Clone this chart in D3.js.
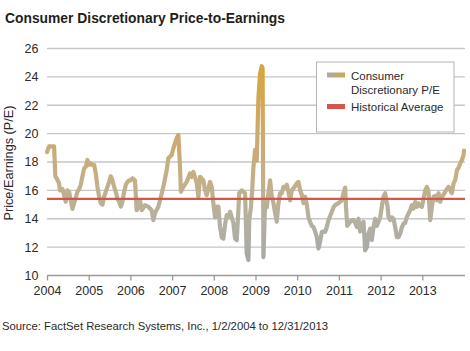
<!DOCTYPE html>
<html>
<head>
<meta charset="utf-8">
<script src="https://cdn.jsdelivr.net/npm/d3@7"></script>
<style>
  html, body { margin: 0; padding: 0; background: #fff; }
  svg { display: block; font-family: "Liberation Sans", Arial, sans-serif; }
</style>
</head>
<body>
<div id="chart"></div>
<script>
// Consumer Discretionary P/E, 2004–2013
const years = [
  2004.00, 2004.05, 2004.17, 2004.20, 2004.23, 2004.29, 2004.31, 2004.37, 2004.41, 2004.45,
  2004.49, 2004.53, 2004.57, 2004.61, 2004.65, 2004.69, 2004.73, 2004.77, 2004.81, 2004.85,
  2004.89, 2004.93, 2004.97, 2005.01, 2005.05, 2005.09, 2005.13, 2005.17, 2005.21, 2005.25,
  2005.29, 2005.33, 2005.37, 2005.41, 2005.45, 2005.49, 2005.53, 2005.57, 2005.61, 2005.65,
  2005.69, 2005.73, 2005.77, 2005.81, 2005.85, 2005.89, 2005.93, 2005.97, 2006.01, 2006.05,
  2006.11, 2006.15, 2006.23, 2006.27, 2006.35, 2006.43, 2006.51, 2006.55, 2006.59, 2006.67,
  2006.71, 2006.79, 2006.87, 2006.91, 2006.99, 2007.03, 2007.11, 2007.15, 2007.19, 2007.21,
  2007.27, 2007.35, 2007.43, 2007.47, 2007.51, 2007.59, 2007.63, 2007.67, 2007.75, 2007.79,
  2007.83, 2007.91, 2007.95, 2007.99, 2008.03, 2008.07, 2008.11, 2008.15, 2008.19, 2008.23,
  2008.27, 2008.31, 2008.35, 2008.39, 2008.43, 2008.47, 2008.51, 2008.55, 2008.59, 2008.61,
  2008.67, 2008.71, 2008.75, 2008.79, 2008.83, 2008.85, 2008.89, 2008.92, 2008.95, 2008.99,
  2009.03, 2009.07, 2009.11, 2009.15, 2009.17, 2009.19, 2009.23, 2009.27, 2009.31, 2009.35,
  2009.39, 2009.43, 2009.47, 2009.51, 2009.55, 2009.59, 2009.63, 2009.67, 2009.71, 2009.75,
  2009.79, 2009.83, 2009.87, 2009.95, 2009.99, 2010.03, 2010.07, 2010.11, 2010.15, 2010.19,
  2010.23, 2010.27, 2010.31, 2010.35, 2010.39, 2010.43, 2010.47, 2010.51, 2010.55, 2010.59,
  2010.63, 2010.67, 2010.71, 2010.75, 2010.79, 2010.83, 2010.87, 2010.91, 2010.99, 2011.07,
  2011.11, 2011.15, 2011.17, 2011.20, 2011.27, 2011.31, 2011.35, 2011.39, 2011.43, 2011.47,
  2011.51, 2011.55, 2011.59, 2011.63, 2011.67, 2011.71, 2011.75, 2011.79, 2011.83, 2011.87,
  2011.91, 2011.95, 2011.99, 2012.03, 2012.07, 2012.11, 2012.13, 2012.17, 2012.19, 2012.23,
  2012.27, 2012.31, 2012.35, 2012.39, 2012.43, 2012.47, 2012.51, 2012.55, 2012.59, 2012.63,
  2012.67, 2012.71, 2012.75, 2012.79, 2012.83, 2012.87, 2012.91, 2012.95, 2012.99, 2013.03,
  2013.07, 2013.11, 2013.15, 2013.19, 2013.23, 2013.27, 2013.31, 2013.35, 2013.39, 2013.43,
  2013.47, 2013.51, 2013.55, 2013.59, 2013.63, 2013.67, 2013.71, 2013.75, 2013.79, 2013.83,
  2013.87, 2013.91, 2013.95, 2013.99, 2014.00
];
const peValues = [
  18.7, 19.1, 19.1, 17.0, 16.85, 16.5, 16.0, 16.1, 15.66, 15.2,
  16.0, 15.9, 15.3, 14.7, 15.1, 15.5, 15.9, 16.1, 16.4, 17.0,
  17.55, 17.67, 18.14, 17.8, 17.9, 17.8, 17.8, 17.2, 16.25, 15.55,
  15.1, 15.0, 15.55, 15.9, 16.25, 16.6, 17.0, 16.7, 16.25, 15.9,
  15.4, 15.2, 14.85, 15.2, 15.9, 16.4, 16.6, 16.7, 16.7, 16.85,
  16.7, 14.6, 15.3, 14.6, 14.95, 14.85, 14.6, 13.9, 14.4, 14.85,
  15.3, 16.25, 17.4, 18.26, 18.5, 18.97, 19.68, 19.9, 17.67, 15.9,
  16.25, 16.6, 17.2, 16.96, 17.3, 16.5, 15.55, 16.96, 16.7, 16.0,
  15.66, 16.6, 16.25, 15.08, 14.1, 14.85, 14.85, 13.4, 12.7, 12.6,
  13.6, 14.25, 14.1, 14.5, 14.1, 13.7, 12.6, 12.5, 14.6, 15.8,
  16.0, 15.9, 15.8, 11.55, 11.1, 13.9, 14.8, 16.0, 17.6, 18.85,
  18.1, 22.5, 24.2, 24.75, 24.6, 11.3, 15.1, 14.8, 15.8, 16.7,
  15.6, 15.1, 14.4, 13.8, 15.1, 15.8, 15.8, 16.25, 16.2, 16.4,
  15.9, 15.3, 16.0, 16.3, 16.5, 16.6, 16.0, 15.7, 15.1, 15.55,
  15.0, 14.1, 13.77, 13.5, 13.42, 13.1, 12.7, 11.9, 12.4, 13.07,
  13.1, 13.07, 13.42, 13.9, 14.2, 14.5, 14.8, 14.96, 15.1, 15.3,
  15.8, 16.2, 14.85, 13.5, 13.77, 13.9, 13.9, 13.7, 13.42, 14.0,
  13.1, 13.5, 13.8, 11.77, 12.0, 12.95, 13.3, 12.5, 13.42, 14.0,
  13.5, 13.77, 14.1, 14.85, 15.55, 15.8, 15.4, 14.84, 14.1, 13.9,
  14.1, 14.0, 13.42, 12.7, 12.71, 12.95, 13.4, 13.66, 13.7, 14.13,
  14.37, 14.6, 14.96, 14.72, 15.19, 14.84, 15.08, 14.9, 14.84, 15.4,
  16.0, 16.25, 15.9, 13.9, 14.84, 15.55, 15.6, 15.3, 15.8, 15.2,
  15.55, 15.7, 15.9, 16.1, 16.25, 16.0, 15.8, 16.5, 16.73, 17.43,
  17.6, 17.9, 18.14, 18.5, 18.8
];
const historicalAverage = 15.4;
const yTicks = [10, 12, 14, 16, 18, 20, 22, 24, 26];
const xTicks = [2004, 2005, 2006, 2007, 2008, 2009, 2010, 2011, 2012, 2013];
const legendLabels = [["Consumer", "Discretionary P/E"], ["Historical Average"]];

const W = 470, H = 351;
const data = years.map((t, i) => ({ t, v: peValues[i] }));

const svg = d3.select('#chart').append('svg')
  .attr('width', W).attr('height', H);

const x = d3.scaleLinear().domain([2004, 2014]).range([47, 464]);
const y = d3.scaleLinear().domain([10, 26]).range([275.5, 48.5]);

// title
svg.append('text')
  .attr('x', 5).attr('y', 22.5)
  .attr('font-size', 15.5).attr('font-weight', 'bold').attr('fill', '#1e1e1e')
  .attr('textLength', 280).attr('lengthAdjust', 'spacingAndGlyphs')
  .text('Consumer Discretionary Price-to-Earnings');

// gridlines
svg.append('g')
  .selectAll('line')
  .data(yTicks.filter(d => d > 10))
  .join('line')
    .attr('x1', x.range()[0]).attr('x2', x.range()[1] + 1)
    .attr('y1', d => y(d)).attr('y2', d => y(d))
    .attr('stroke', '#c6c6c6').attr('stroke-width', 1.4);

// y tick labels
svg.append('g')
  .selectAll('text')
  .data(yTicks)
  .join('text')
    .attr('x', 38.5).attr('y', d => y(d) + 4.4)
    .attr('text-anchor', 'end')
    .attr('font-size', 12.5).attr('fill', '#2a2a2a')
    .text(d => d);

// y axis label
svg.append('text')
  .attr('transform', `translate(12.5,${(y(10) + y(26)) / 2 + 1}) rotate(-90)`)
  .attr('text-anchor', 'middle')
  .attr('font-size', 12).attr('fill', '#2a2a2a')
  .attr('textLength', 115).attr('lengthAdjust', 'spacingAndGlyphs')
  .text('Price/Earnings (P/E)');

// x axis
const xAxis = svg.append('g')
  .attr('transform', `translate(0,${y(10)})`)
  .call(d3.axisBottom(x).tickValues(xTicks).tickFormat(d3.format('d')).tickSize(5).tickPadding(6))
  .call(g => g.select('.domain').attr('d', `M${x.range()[0]},0H${x.range()[1] + 1}`));
xAxis.selectAll('line, path').attr('stroke', '#9a9a9a').attr('stroke-width', 1.3);
xAxis.selectAll('text')
  .attr('font-family', '"Liberation Sans", Arial, sans-serif')
  .attr('font-size', 12.5).attr('fill', '#2a2a2a');

// gradient for the P/E line (gray at the bottom, gold at the top)
const defs = svg.append('defs');
const grad = defs.append('linearGradient')
  .attr('id', 'peGrad').attr('gradientUnits', 'userSpaceOnUse')
  .attr('x1', 0).attr('x2', 0).attr('y1', y(11)).attr('y2', y(25));
[[0, '#a7a7a7'], [0.2, '#b4b0a2'], [0.4, '#c3b089'], [0.6, '#cbab72'], [1, '#d9a43a']]
  .forEach(([o, c]) => grad.append('stop').attr('offset', o).attr('stop-color', c));

const legGrad = defs.append('linearGradient').attr('id', 'legGrad');
[[0, '#a9a9a9'], [1, '#d0a852']]
  .forEach(([o, c]) => legGrad.append('stop').attr('offset', o).attr('stop-color', c));

svg.append('path')
  .datum(data)
  .attr('fill', 'none')
  .attr('stroke', 'url(#peGrad)')
  .attr('stroke-width', 4.2)
  .attr('stroke-linejoin', 'round')
  .attr('stroke-linecap', 'round')
  .attr('d', d3.line().x(d => x(d.t)).y(d => y(d.v)));

// historical average
svg.append('line')
  .attr('x1', x.range()[0]).attr('x2', x.range()[1] + 1)
  .attr('y1', y(historicalAverage)).attr('y2', y(historicalAverage))
  .attr('stroke', '#d6554a').attr('stroke-width', 2.4);

// legend
const leg = svg.append('g');
leg.append('rect')
  .attr('x', 316.5).attr('y', 62).attr('width', 137.5).attr('height', 70)
  .attr('fill', '#fff').attr('stroke', '#b4b4b4').attr('stroke-width', 1);
leg.append('rect')
  .attr('x', 327).attr('y', 72.5).attr('width', 18).attr('height', 5)
  .attr('fill', 'url(#legGrad)');
leg.append('rect')
  .attr('x', 327).attr('y', 104).attr('width', 18).attr('height', 5)
  .attr('fill', '#d6554a');
const legText = leg.append('text')
  .attr('font-size', 11.5).attr('fill', '#2a2a2a');
legText.append('tspan').attr('x', 351).attr('y', 80).text(legendLabels[0][0]);
legText.append('tspan').attr('x', 351).attr('y', 93.5).text(legendLabels[0][1]);
leg.append('text')
  .attr('x', 351).attr('y', 110.5)
  .attr('font-size', 11.5).attr('fill', '#2a2a2a')
  .text(legendLabels[1][0]);

// source
svg.append('text')
  .attr('x', 2).attr('y', 330)
  .attr('font-size', 11).attr('fill', '#2a2a2a')
  .attr('textLength', 326).attr('lengthAdjust', 'spacingAndGlyphs')
  .text('Source: FactSet Research Systems, Inc., 1/2/2004 to 12/31/2013');
</script>
</body>
</html>
